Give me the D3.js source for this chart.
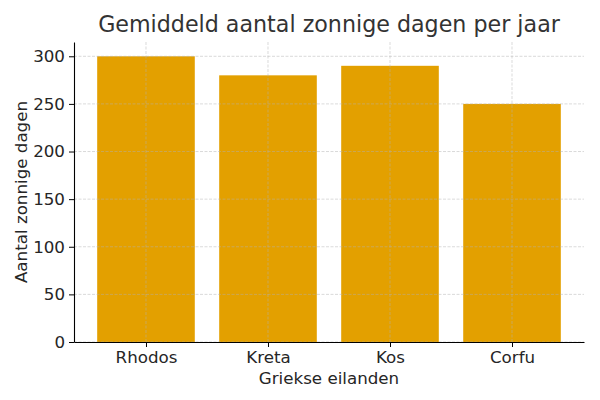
<!DOCTYPE html>
<html>
<head>
<meta charset="utf-8">
<script src="https://cdn.jsdelivr.net/npm/d3@7"></script>
<style>
  body { margin: 0; background: #fff; }
  text { font-family: "DejaVu Sans", sans-serif; fill: #262626; }
</style>
</head>
<body>
<div id="chart"></div>
<script>
// Data
var islands = ["Rhodos", "Kreta", "Kos", "Corfu"];
var sunnyDays = [300, 280, 290, 250];
var yTicks = [0, 50, 100, 150, 200, 250, 300];

var svgWidth = 600;
var svgHeight = 400;

var margin = { top: 42, right: 16, bottom: 58, left: 74 };
var width = svgWidth - margin.left - margin.right;
var height = svgHeight - margin.top - margin.bottom;

var svg = d3.select("#chart").append("svg")
    .attr("width", svgWidth)
    .attr("height", svgHeight);

var chartGroup = svg.append("g")
    .attr("transform", `translate(${margin.left}, ${margin.top})`);

// x as numeric positions like matplotlib, bars 0.8 wide
var xScale = d3.scaleLinear()
    .domain([-0.59, islands.length - 1 + 0.59])
    .range([0, width]);

var yScale = d3.scaleLinear()
    .domain([0, 315])
    .range([height, 0]);

var barColor = "#e3a000";

// bars
chartGroup.selectAll("rect.bar")
    .data(sunnyDays)
    .enter()
    .append("rect")
    .attr("class", "bar")
    .attr("x", (d, i) => xScale(i - 0.4))
    .attr("width", xScale(0.8) - xScale(0))
    .attr("y", d => yScale(d))
    .attr("height", d => height - yScale(d))
    .attr("fill", barColor);

// grid on top (faint)
var grid = chartGroup.append("g").attr("class", "grid");
grid.selectAll("line.h")
    .data(yTicks)
    .enter()
    .append("line")
    .attr("x1", 0)
    .attr("x2", width)
    .attr("y1", d => yScale(d))
    .attr("y2", d => yScale(d))
    .attr("stroke", "#b0b0b0")
    .attr("stroke-opacity", 0.6)
    .attr("stroke-width", 0.8)
    .attr("stroke-dasharray", "3,1.5");

grid.selectAll("line.v")
    .data(islands)
    .enter()
    .append("line")
    .attr("x1", (d, i) => xScale(i))
    .attr("x2", (d, i) => xScale(i))
    .attr("y1", 0)
    .attr("y2", height)
    .attr("stroke", "#b0b0b0")
    .attr("stroke-opacity", 0.6)
    .attr("stroke-width", 0.8)
    .attr("stroke-dasharray", "3,1.5");

// axes
var bottomAxis = d3.axisBottom(xScale)
    .tickValues(d3.range(islands.length))
    .tickFormat(i => islands[i])
    .tickSizeInner(5)
    .tickSizeOuter(0)
    .tickPadding(4);

var leftAxis = d3.axisLeft(yScale)
    .tickValues(yTicks)
    .tickSizeInner(5)
    .tickSizeOuter(0)
    .tickPadding(4);

var xAxis = chartGroup.append("g")
    .attr("transform", `translate(0, ${height})`)
    .call(bottomAxis);

var yAxis = chartGroup.append("g")
    .call(leftAxis);

[xAxis, yAxis].forEach(function(ax) {
    ax.select(".domain").attr("stroke", "#000").attr("stroke-width", 1.1);
    ax.selectAll(".tick line").attr("stroke", "#000").attr("stroke-width", 1);
    ax.selectAll(".tick text")
        .attr("font-size", "16.7px")
        .attr("font-family", "DejaVu Sans, sans-serif")
        .attr("fill", "#262626");
});

// title
svg.append("text")
    .attr("x", margin.left + width / 2)
    .attr("y", 32)
    .attr("text-anchor", "middle")
    .attr("font-size", "22.2px")
    .style("fill", "#333")
    .text("Gemiddeld aantal zonnige dagen per jaar");

// x label
svg.append("text")
    .attr("x", margin.left + width / 2)
    .attr("y", 384)
    .attr("text-anchor", "middle")
    .attr("font-size", "16.7px")
    .text("Griekse eilanden");

// y label
svg.append("text")
    .attr("transform", "rotate(-90)")
    .attr("x", -(margin.top + height / 2))
    .attr("y", 27)
    .attr("text-anchor", "middle")
    .attr("font-size", "16.7px")
    .text("Aantal zonnige dagen");
</script>
</body>
</html>
